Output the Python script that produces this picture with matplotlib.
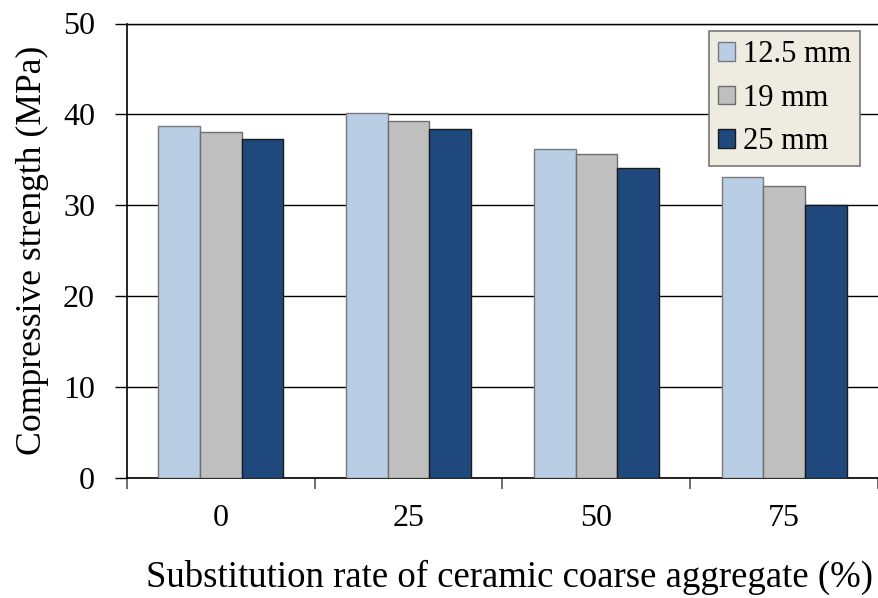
import numpy as np
import matplotlib
matplotlib.use("Agg")
import matplotlib.pyplot as plt
from matplotlib.ticker import FixedLocator

plt.rcParams["font.family"] = ["Liberation Serif", "DejaVu Serif"]

# data
categories = ["0", "25", "50", "75"]
series_names = ["12.5 mm", "19 mm", "25 mm"]
strength_125 = [38.7, 40.15, 36.2, 33.15]
strength_19 = [38.1, 39.3, 35.6, 32.15]
strength_25 = [37.3, 38.4, 34.1, 30.05]
y_ticks = [0, 10, 20, 30, 40, 50]

colors = ["#B9CDE5", "#BFBFBF", "#1F497D"]
edges = ["#7a7a7a", "#6e6e6e", "#1a1a1a"]

fig = plt.figure(figsize=(8.79, 5.98), dpi=100)
ax = fig.add_axes([127 / 879, 120 / 598, 751 / 879, 454.5 / 598])

x = np.arange(len(categories))
w = 2 / 9
for i, (vals, name) in enumerate(zip([strength_125, strength_19, strength_25], series_names)):
    ax.bar(x + (i - 1) * w, vals, width=w, color=colors[i], edgecolor=edges[i],
           linewidth=1.0, label=name, zorder=3)

ax.set_xlim(-0.5, len(categories) - 0.5)
ax.set_ylim(0, 50)
ax.set_yticks(y_ticks)
ax.yaxis.grid(True, color="black", linewidth=1.0, zorder=0)
ax.set_axisbelow(True)

ax.set_xticks(x)
ax.set_xticklabels(categories)
ax.xaxis.set_minor_locator(FixedLocator(np.arange(-0.5, len(categories), 1.0)))
ax.tick_params(axis="x", which="major", length=0, pad=19, labelsize=23)
ax.tick_params(axis="x", which="minor", length=8, width=1.2, color="#555555")
ax.tick_params(axis="y", length=9, width=1.0, pad=14, labelsize=23)

ax.spines["right"].set_visible(False)
ax.spines["top"].set_linewidth(1.0)
for s in ["left", "bottom"]:
    ax.spines[s].set_linewidth(1.2)

ax.set_xlabel("Substitution rate of ceramic coarse aggregate (%)", fontsize=26.5)
ax.xaxis.set_label_coords((510 - 127) / 751, -0.18)
ax.set_ylabel("Compressive strength (MPa)", fontsize=25.7, labelpad=10)

leg = ax.legend(loc="upper right", fontsize=22, frameon=True, fancybox=False,
                handlelength=0.55, handleheight=0.55, handletextpad=0.26,
                labelspacing=0.48, borderpad=0.3, borderaxespad=0)
leg.get_frame().set_facecolor("#EEEBE0")
leg.get_frame().set_edgecolor("#777777")
leg.get_frame().set_linewidth(1.2)
leg.get_frame().set_alpha(1.0)
leg.set_bbox_to_anchor((860 / 879, (598 - 31) / 598), transform=fig.transFigure)

fig.savefig("out.png", dpi=100)
